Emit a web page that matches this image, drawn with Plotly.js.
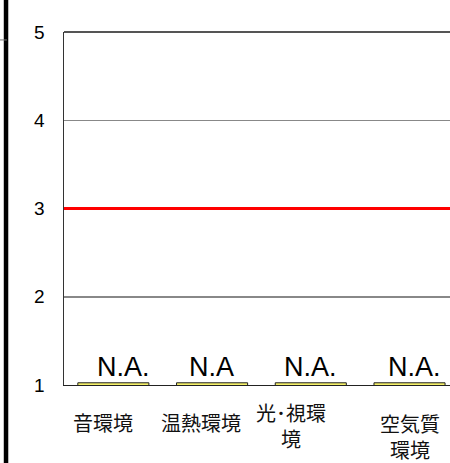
<!DOCTYPE html>
<html><head><meta charset="utf-8">
<script src="https://cdn.plot.ly/plotly-3.0.1.min.js"></script>
<style>html,body{margin:0;padding:0;background:#fff;overflow:hidden}</style>
</head><body>
<div id="chart" style="width:450px;height:463px"></div>
<script>
const categories = ['音環境', '温熱環境', '光･視環<br>境', '空気質<br>環境'];
const values = [1.025, 1.025, 1.025, 1.025];
const naLabels = ['N.A.', 'N.A', 'N.A.', 'N.A.'];
const referenceLevel = 3;
const yTicks = [1, 2, 3, 4, 5];

const idx = categories.map((c, i) => i);
const naShift = [10, -1, 0, 5];
const catShiftX = [-10, -11, -20, 0];
const catShiftY = [-37, -37, -40, -51];

const annotations = [];
naLabels.forEach((t, i) => annotations.push({
  x: i, y: 1, xref: 'x', yref: 'y', text: t, showarrow: false,
  xanchor: 'center', yanchor: 'bottom', yshift: 1, xshift: naShift[i],
  font: {family: 'Liberation Sans, Arial, sans-serif', size: 27, color: '#000'}
}));
categories.forEach((t, i) => annotations.push({
  x: i, y: 1, xref: 'x', yref: 'y', text: t, showarrow: false,
  xanchor: 'center', yanchor: 'middle', yshift: catShiftY[i], xshift: catShiftX[i],
  align: 'center',
  font: {family: 'Noto Sans CJK JP, sans-serif', size: 20, color: '#111'}
}));

Plotly.newPlot('chart', [{
  type: 'bar', x: idx, y: values, width: 0.72,
  marker: {color: '#f4f06a', line: {color: '#222', width: 1}},
  hoverinfo: 'skip'
}], {
  width: 450, height: 463,
  margin: {l: 64, r: 0, t: 32, b: 78},
  paper_bgcolor: '#fff', plot_bgcolor: '#fff',
  showlegend: false,
  xaxis: {range: [-0.5, 3.41], showticklabels: false, showgrid: false, zeroline: false,
          showline: true, linecolor: '#222', linewidth: 1, ticks: ''},
  yaxis: {range: [1, 5], tickvals: yTicks, ticktext: yTicks.map(String),
          showgrid: true, gridcolor: '#888', gridwidth: 1.5, zeroline: false,
          showline: true, linecolor: '#333', linewidth: 1.5, ticks: '',
          ticklabelstandoff: 14,
          tickfont: {family: 'Liberation Sans, Arial, sans-serif', size: 19, color: '#000'}},
  shapes: [
    {type: 'line', xref: 'paper', yref: 'y', x0: 0, x1: 1, y0: referenceLevel, y1: referenceLevel,
     line: {color: '#ff0000', width: 3}},
    {type: 'line', xref: 'paper', yref: 'paper', x0: 0, x1: 1, y0: 1, y1: 1,
     line: {color: '#555', width: 2}},
    {type: 'line', xref: 'paper', yref: 'paper', x0: -0.1502, x1: -0.1502, y0: -0.3, y1: 1.2,
     line: {color: '#000', width: 4.5}},
    {type: 'line', xref: 'paper', yref: 'y', x0: -0.166, x1: -0.148, y0: 4.91, y1: 4.91,
     line: {color: '#777', width: 1}}
  ],
  annotations: annotations
}, {displayModeBar: false, staticPlot: true});
</script>
</body></html>
